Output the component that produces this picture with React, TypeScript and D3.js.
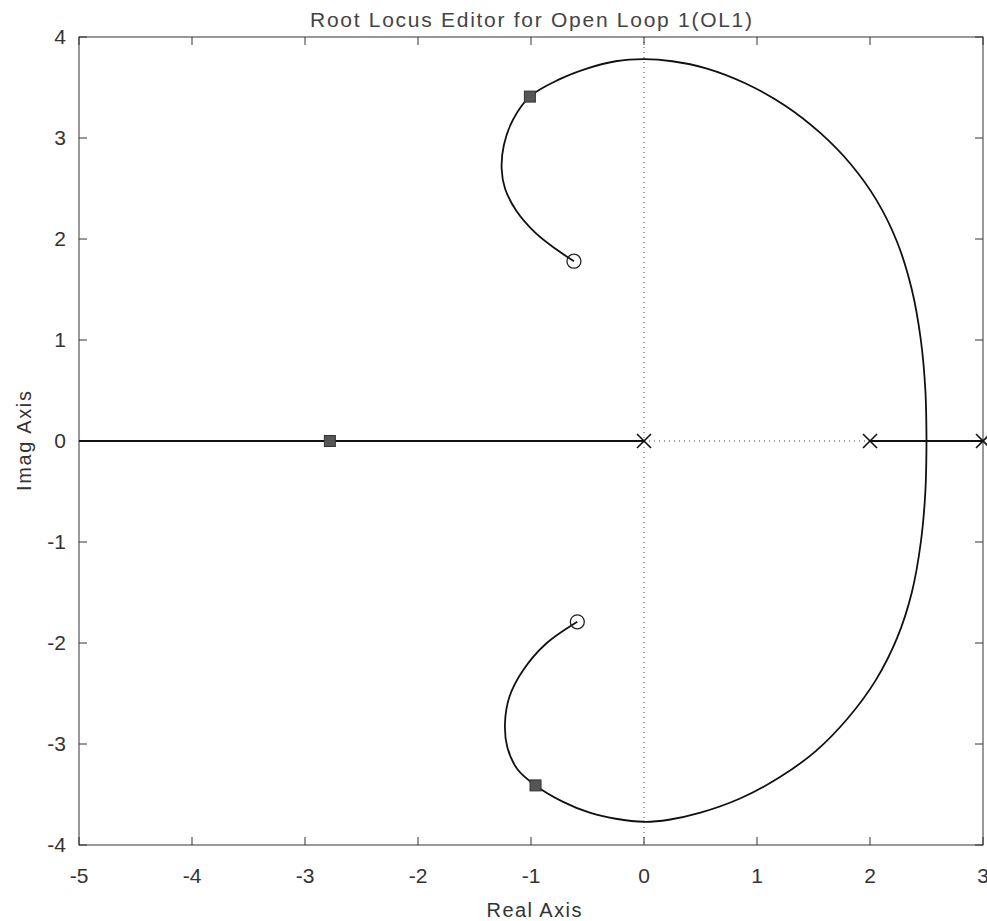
import React from 'react';
import * as d3 from 'd3';

const xTicks = [-5, -4, -3, -2, -1, 0, 1, 2, 3];
const yTicks = [-4, -3, -2, -1, 0, 1, 2, 3, 4];

// Complex branch: from breakaway on real axis, up and over, to upper zero
const upperBranch: [number, number][] = [
  [2.5, 0], [2.49, 0.5], [2.45, 1.0], [2.37, 1.5], [2.24, 1.97], [2.06, 2.38],
  [1.83, 2.74], [1.56, 3.05], [1.25, 3.32], [0.9, 3.54], [0.55, 3.69], [0.25, 3.76],
  [0.0, 3.78], [-0.25, 3.76], [-0.5, 3.69], [-0.75, 3.58], [-1.01, 3.41], [-1.16, 3.18],
  [-1.24, 2.93], [-1.26, 2.7], [-1.23, 2.5], [-1.13, 2.28], [-0.96, 2.06], [-0.78, 1.9],
  [-0.62, 1.78],
];
const lowerBranch: [number, number][] = [
  [2.5, 0], [2.49, -0.5], [2.45, -1.0], [2.37, -1.5], [2.24, -1.95], [2.05, -2.37],
  [1.8, -2.75], [1.52, -3.07], [1.2, -3.33], [0.85, -3.54], [0.5, -3.68], [0.22, -3.75],
  [0.0, -3.77], [-0.25, -3.74], [-0.48, -3.68], [-0.72, -3.57], [-0.96, -3.41],
  [-1.12, -3.25], [-1.21, -3.03], [-1.23, -2.79], [-1.19, -2.53], [-1.07, -2.27],
  [-0.87, -2.01], [-0.59, -1.79],
];
const realSegments: [number, number][] = [[-5, 0], [2, 3]];
const poles: [number, number][] = [[0, 0], [2, 0], [3, 0]];
const zeros: [number, number][] = [[-0.62, 1.78], [-0.59, -1.79]];
const closedLoopPoles: [number, number][] = [[-1.01, 3.41], [-2.78, 0], [-0.96, -3.41]];

const W = 987, H = 921;
const M = { left: 79, right: 983, top: 37, bottom: 845 };
const FONT = '"Liberation Sans", Arial, sans-serif';

export default function App() {
  const x = d3.scaleLinear().domain([-5, 3]).range([M.left, M.right]);
  const y = d3.scaleLinear().domain([-4, 4]).range([M.bottom, M.top]);
  const line = d3.line<[number, number]>().x(d => x(d[0])).y(d => y(d[1])).curve(d3.curveCatmullRom.alpha(0.5));
  const tl = 8;
  const textColor = '#333';
  return (
    <svg width={W} height={H} style={{ position: 'absolute', left: 0, top: 0, background: '#fff' }} fontFamily={FONT}>
      <rect x={0} y={0} width={W} height={H} fill="#fff" />
      {/* dotted axes */}
      <line x1={x(-5)} x2={x(3)} y1={y(0)} y2={y(0)} stroke="#444" strokeWidth={1} strokeDasharray="1,4" />
      <line x1={x(0)} x2={x(0)} y1={y(4)} y2={y(-4)} stroke="#444" strokeWidth={1} strokeDasharray="1,4" />
      {/* frame */}
      <rect x={M.left} y={M.top} width={M.right - M.left} height={M.bottom - M.top} fill="none" stroke="#333" strokeWidth={1} />
      {xTicks.map(t => (
        <g key={'xt' + t}>
          <line x1={x(t)} x2={x(t)} y1={M.bottom} y2={M.bottom - tl} stroke="#333" />
          <line x1={x(t)} x2={x(t)} y1={M.top} y2={M.top + tl} stroke="#333" />
          <text x={x(t)} y={883} textAnchor="middle" fontSize={21} fill={textColor}>{t}</text>
        </g>
      ))}
      {yTicks.map(t => (
        <g key={'yt' + t}>
          <line x1={M.left} x2={M.left + tl} y1={y(t)} y2={y(t)} stroke="#333" />
          <line x1={M.right} x2={M.right - tl} y1={y(t)} y2={y(t)} stroke="#333" />
          <text x={66} y={y(t)} dy="0.35em" textAnchor="end" fontSize={21} fill={textColor}>{t}</text>
        </g>
      ))}
      {/* real axis branches */}
      {realSegments.map((s, i) => (
        <line key={'rs' + i} x1={x(s[0])} x2={x(s[1])} y1={y(0)} y2={y(0)} stroke="#111" strokeWidth={2} />
      ))}
      <path d={line(upperBranch) || ''} fill="none" stroke="#111" strokeWidth={1.8} />
      <path d={line(lowerBranch) || ''} fill="none" stroke="#111" strokeWidth={1.8} />
      {poles.map((p, i) => (
        <g key={'p' + i} stroke="#111" strokeWidth={1.6}>
          <line x1={x(p[0]) - 7} x2={x(p[0]) + 7} y1={y(p[1]) - 7} y2={y(p[1]) + 7} />
          <line x1={x(p[0]) - 7} x2={x(p[0]) + 7} y1={y(p[1]) + 7} y2={y(p[1]) - 7} />
        </g>
      ))}
      {zeros.map((p, i) => (
        <circle key={'z' + i} cx={x(p[0])} cy={y(p[1])} r={7} fill="none" stroke="#222" strokeWidth={1.3} />
      ))}
      {closedLoopPoles.map((p, i) => (
        <rect key={'c' + i} x={x(p[0]) - 5.5} y={y(p[1]) - 5.5} width={11} height={11} fill="#555" stroke="#333" strokeWidth={1} />
      ))}
      <text x={531} y={27} textAnchor="middle" fontSize={21} fill="#444" textLength={442} lengthAdjust="spacing">Root Locus Editor for Open Loop 1(OL1)</text>
      <text x={534} y={917} textAnchor="middle" fontSize={20} fill={textColor} textLength={95} lengthAdjust="spacing">Real Axis</text>
      <text transform={`translate(31,441) rotate(-90)`} textAnchor="middle" fontSize={20} fill={textColor} textLength={100} lengthAdjust="spacing">Imag Axis</text>
    </svg>
  );
}
